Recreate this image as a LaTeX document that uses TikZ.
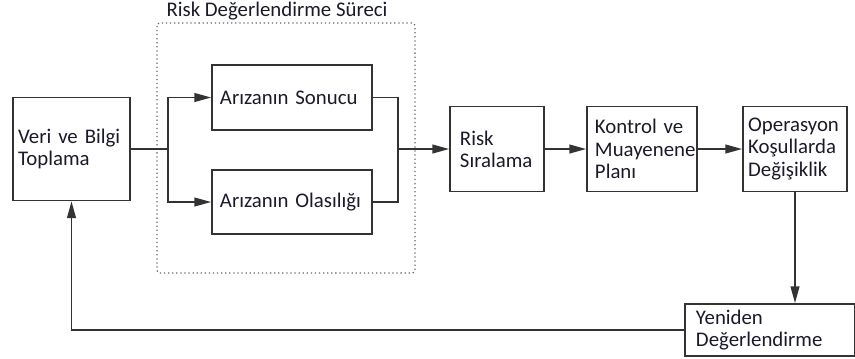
\documentclass[tikz,border=0pt]{standalone}
\usepackage{fontspec}
\setmainfont{Carlito}
\usetikzlibrary{arrows.meta,positioning}
\definecolor{linecol}{HTML}{333333}
\definecolor{txtcol}{HTML}{1A1A2A}
\tikzset{
  block/.style={draw=linecol,line width=1.2pt,rectangle,align=left,inner xsep=0.2cm,inner ysep=0pt,
    font=\fontsize{14.8}{15.8}\selectfont,text=txtcol},
  frame/.style={draw=gray!80!black,dotted,line width=0.9pt,rounded corners=2pt},
  title/.style={font=\fontsize{14.8}{15.8}\selectfont,text=txtcol},
  link/.style={draw=linecol,line width=1.2pt}
}
\begin{document}
\begin{tikzpicture}[x=0.025cm,y=-0.025cm,>={Triangle[length=0.42cm,width=0.22cm]}]
  \useasboundingbox (0,0) rectangle (855,358);
  % risk assessment frame
  \draw[frame] (157,23) rectangle (415,273);
  \node[title] (ttl) at (277,11) {Risk Değerlendirme Süreci};
  % blocks
  \node[block,text width=2.665cm,minimum height=2.575cm,inner xsep=0.13cm] (veri) at (71.5,149) {Veri ve Bilgi\\Toplama};
  \node[block,text width=3.6cm,minimum height=1.625cm] (sonuc) at (292,97.5) {Arızanın Sonucu};
  \node[block,text width=3.6cm,minimum height=1.6cm] (olas) at (292,202) {Arızanın Olasılığı};
  \node[block,text width=1.85cm,minimum height=2.125cm,inner xsep=0.25cm] (risk) at (497,149) {Risk\\Sıralama};
  \node[block,text width=2.35cm,minimum height=2.125cm] (kont) at (642,149) {Kontrol ve\\Muayenene\\Planı};
  \node[block,text width=2.34cm,minimum height=2.125cm,inner xsep=0.13cm] (oper) at (795,149) {Operasyon\\Koşullarda\\Değişiklik};
  \node[block,text width=3.7cm,minimum height=1.3cm,inner xsep=0.27cm] (yeni) at (770,330) {Yeniden\\Değerlendirme};
  % connectors
  \coordinate (split) at (168,149);
  \coordinate (merge) at (398,149);
  \draw[link] (veri.east) -- (split);
  \draw[link,->] (split) |- (sonuc.west);
  \draw[link,->] (split) |- (olas.west);
  \draw[link] (sonuc.east) -| (merge);
  \draw[link] (olas.east) -| (merge);
  \draw[link,->] (merge) -- (risk.west);
  \draw[link,->] (risk.east) -- (kont.west);
  \draw[link,->] (kont.east) -- (oper.west);
  \draw[link,->] (oper.south) -- (oper.south |- yeni.north);
  \draw[link,->] (yeni.west) -| (veri.south);
\end{tikzpicture}
\end{document}
